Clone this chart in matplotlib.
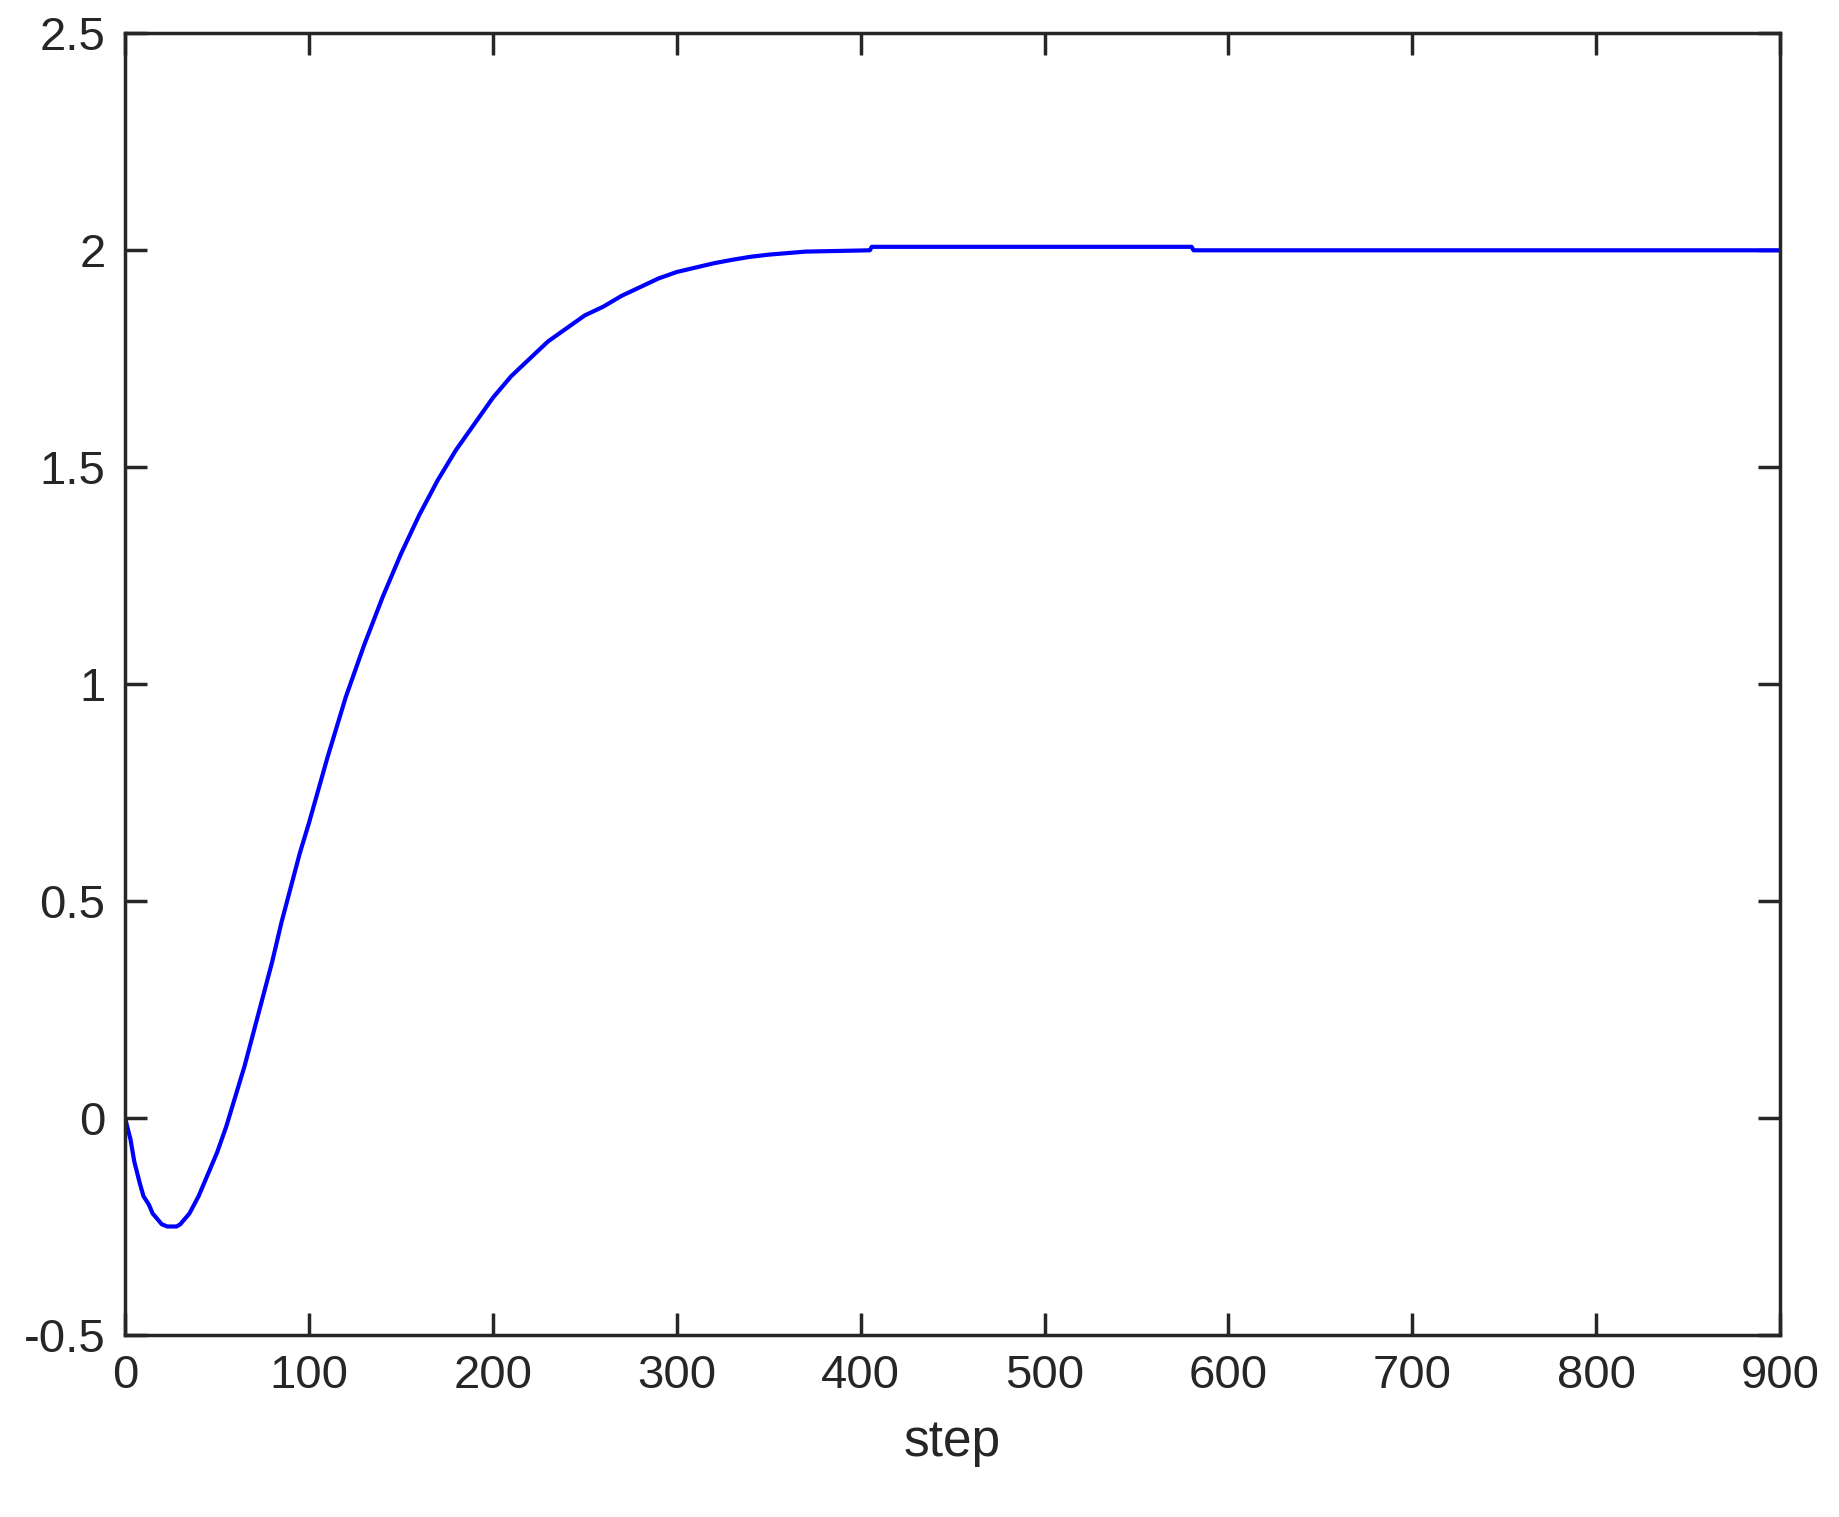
import matplotlib
matplotlib.use("Agg")
import matplotlib.pyplot as plt

plt.rcParams['font.family'] = ['Liberation Sans', 'DejaVu Sans']

# curve
steps = [0, 3, 5, 8, 10, 13, 15, 18, 20, 23, 25, 28, 30, 35, 40, 45, 50, 55, 60, 65,
         70, 75, 80, 85, 90, 95, 100, 110, 120, 130, 140, 150, 160, 170, 180, 190,
         200, 210, 220, 230, 240, 250, 260, 270, 280, 290, 300, 310, 320, 330, 340,
         350, 370, 405, 406, 580, 581, 900]
values = [0, -0.05, -0.1, -0.15, -0.18, -0.2, -0.22, -0.235, -0.245, -0.25, -0.25, -0.25,
          -0.245, -0.22, -0.18, -0.13, -0.08, -0.02, 0.05, 0.12,
          0.2, 0.28, 0.36, 0.45, 0.53, 0.61, 0.68, 0.83, 0.97, 1.09, 1.2, 1.3, 1.39,
          1.47, 1.54, 1.6, 1.66, 1.71, 1.75, 1.79, 1.82, 1.85, 1.87, 1.895, 1.915,
          1.935, 1.95, 1.96, 1.97, 1.978, 1.985, 1.99, 1.997, 2.0, 2.008, 2.008, 2.0, 2.0]

fig = plt.figure(figsize=(18.39, 15.17), dpi=100)
ax = fig.add_axes([0.068, 0.12, 0.9, 0.858])
ax.plot(steps, values, color='#0000ff', linewidth=3)
ax.set_xlim(0, 900)
ax.set_ylim(-0.5, 2.5)
ax.set_xticks(range(0, 901, 100))
ax.set_yticks([-0.5, 0, 0.5, 1, 1.5, 2, 2.5])
ax.set_yticklabels(['-0.5', '0', '0.5', '1', '1.5', '2', '2.5'])
ax.tick_params(direction='in', top=True, right=True, length=16, width=2.5,
               labelsize=34, colors='#262626', pad=14)
for s in ax.spines.values():
    s.set_linewidth(2.5)
    s.set_color('#262626')
ax.set_xlabel('step', fontsize=37, color='#262626', labelpad=14)
fig.savefig('out.png', dpi=100)
